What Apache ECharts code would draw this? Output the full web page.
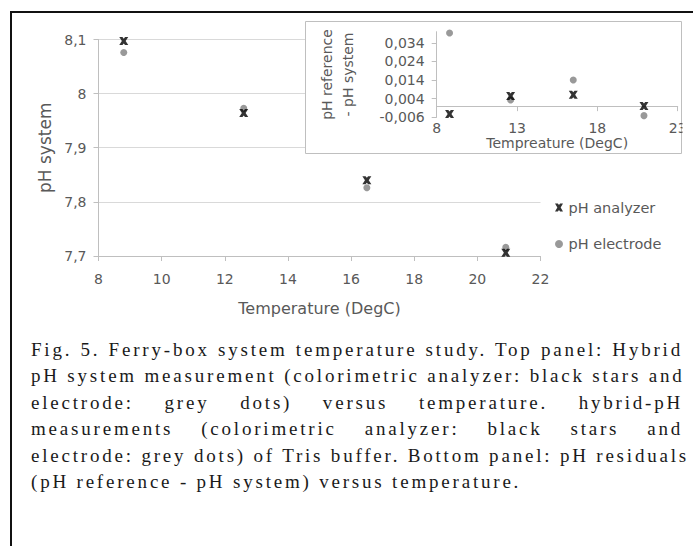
<!DOCTYPE html>
<html>
<head>
<meta charset="utf-8">
<script src="https://cdn.jsdelivr.net/npm/echarts@6/dist/echarts.min.js"></script>
<style>
  html, body { margin: 0; padding: 0; background: #fff; }
  #chart { position: absolute; left: 0; top: 0; width: 693px; height: 546px; }
  .frame { position: absolute; left: 10px; top: 11px; width: 700px; height: 560px;
           border-left: 2px solid #111; border-top: 2px solid #111; }
  .caption { position: absolute; left: 31px; top: 337px; width: 652px;
             font-family: 'Liberation Serif', serif; font-size: 19px; line-height: 26.4px;
             letter-spacing: 2.8px; color: #1a1a1a; }
  .caption div { text-align: justify; text-align-last: justify; white-space: nowrap; }
  .caption div.last { text-align: left; text-align-last: left; }
</style>
</head>
<body>
<div id="chart"></div>
<div class="frame"></div>
<div class="caption">
  <div>Fig. 5. Ferry-box system temperature study. Top panel: Hybrid</div>
  <div>pH system measurement (colorimetric analyzer: black stars and</div>
  <div>electrode: grey dots) versus temperature. hybrid-pH</div>
  <div>measurements (colorimetric analyzer: black stars and</div>
  <div>electrode: grey dots) of Tris buffer. Bottom panel: pH residuals</div>
  <div class="last">(pH reference - pH system) versus temperature.</div>
</div>
<script>
// temperatures (DegC)
const temps = [8.8, 12.6, 16.5, 20.9];
// main panel: pH system
const phAnalyzer = [8.097, 7.964, 7.840, 7.706];
const phElectrode = [8.076, 7.973, 7.826, 7.716];
// inset: pH reference - pH system
const resAnalyzer = [-0.0042, 0.0054, 0.0061, 0.0001];
const resElectrode = [0.0393, 0.0033, 0.0140, -0.0051];
// inset tick values
const insetYTicks = [-0.006, 0.004, 0.014, 0.024, 0.034];
const insetXTicks = [8, 13, 18, 23];

const FONT = 'DejaVu Sans';
const LABEL = '#595959';
const AXIS = '#bfbfbf';
const GRID = '#d9d9d9';
const STAR = 'path://M0,0 L3.6,0 L5,1.9 L6.4,0 L10,0 L7.1,5 L10,10 L6.4,10 L5,8.1 L3.6,10 L0,10 L2.9,5 Z';

const pairs = (xs, ys) => xs.map((x, i) => [x, ys[i]]);
const comma = (v, d) => String(Number(v.toFixed(d))).replace('.', ',');

const chart = echarts.init(document.getElementById('chart'), null, { renderer: 'svg' });
chart.setOption({
  animation: false,
  textStyle: { fontFamily: FONT },
  grid: [
    { left: 98.5, right: 152.5, top: 39.5, bottom: 290, outerBoundsMode: 'none' },
    { left: 436.7, right: 15.3, top: 31.7, bottom: 428.7, outerBoundsMode: 'none', z: 3 },
  ],
  graphic: [
    { type: 'rect', z: 1, shape: { x: 305.5, y: 21.5, width: 376, height: 132 },
      style: { fill: '#fff', stroke: AXIS, lineWidth: 1 } },
    { type: 'rect', z: 20, shape: { x: 682.5, y: 100, width: 20, height: 50 },
      style: { fill: '#fff' } },
  ],
  legend: {
    orient: 'vertical', left: 550, top: 195, itemGap: 21.5,
    itemWidth: 9, itemHeight: 8, itemStyle: { borderWidth: 0 },
    data: ['pH analyzer', 'pH electrode'],
    textStyle: { color: LABEL, fontSize: 14.5, fontFamily: FONT },
  },
  xAxis: [
    {
      gridIndex: 0, type: 'value', min: 8, max: 22, interval: 2,
      name: 'Temperature (DegC)', nameLocation: 'middle', nameGap: 44,
      nameTextStyle: { color: LABEL, fontSize: 16 },
      axisLine: { lineStyle: { color: AXIS } },
      axisTick: { show: true, length: 5, lineStyle: { color: AXIS } },
      axisLabel: { color: LABEL, fontSize: 14, margin: 16 },
      splitLine: { show: false },
    },
    {
      // inset: labels and title along the bottom
      gridIndex: 1, type: 'value', position: 'bottom', min: 8, max: 23, interval: 5, z: 3,
      name: 'Tempreature (DegC)', nameLocation: 'middle', nameGap: 9,
      nameTextStyle: { color: LABEL, fontSize: 14 },
      axisLine: { show: false, onZero: false },
      axisTick: { show: false },
      axisLabel: { color: LABEL, fontSize: 14, margin: 4, customValues: insetXTicks },
      splitLine: { show: false },
    },
    {
      // inset: axis line with ticks crossing at zero
      gridIndex: 1, type: 'value', position: 'bottom', min: 8, max: 23, interval: 5, z: 3,
      axisLine: { show: true, onZero: true, onZeroAxisIndex: 1, lineStyle: { color: AXIS } },
      axisTick: { show: true, length: 5, lineStyle: { color: AXIS }, customValues: insetXTicks },
      axisLabel: { show: false },
      splitLine: { show: false },
    },
  ],
  yAxis: [
    {
      gridIndex: 0, type: 'value', min: 7.7, max: 8.1, interval: 0.1,
      name: 'pH system', nameLocation: 'middle', nameGap: 45,
      nameTextStyle: { color: LABEL, fontSize: 17 },
      axisLine: { show: true, lineStyle: { color: AXIS } },
      axisTick: { show: true, length: 5, lineStyle: { color: AXIS } },
      axisLabel: { color: LABEL, fontSize: 14, margin: 12, formatter: (v) => comma(v, 2) },
      splitLine: { show: true, lineStyle: { color: GRID } },
    },
    {
      gridIndex: 1, type: 'value', min: -0.006, max: 0.04, z: 3,
      name: 'pH reference\n- pH system', nameLocation: 'middle', nameGap: 78,
      nameTextStyle: { color: LABEL, fontSize: 14, lineHeight: 21 },
      axisLine: { show: true, onZero: false, lineStyle: { color: AXIS } },
      axisTick: { show: true, length: 5, lineStyle: { color: AXIS }, customValues: insetYTicks },
      axisLabel: { color: LABEL, fontSize: 14, margin: 12, customValues: insetYTicks,
                   formatter: (v) => v.toFixed(3).replace('.', ',') },
      splitLine: { show: false },
    },
  ],
  series: [
    { name: 'pH electrode', type: 'scatter', xAxisIndex: 0, yAxisIndex: 0,
      symbol: 'circle', symbolSize: 7, itemStyle: { color: '#7f7f7f' },
      data: pairs(temps, phElectrode) },
    { name: 'pH analyzer', type: 'scatter', xAxisIndex: 0, yAxisIndex: 0,
      symbol: STAR, symbolSize: [9, 8], itemStyle: { color: '#000' },
      data: pairs(temps, phAnalyzer) },
    { name: 'residual electrode', type: 'scatter', xAxisIndex: 1, yAxisIndex: 1, z: 4,
      symbol: 'circle', symbolSize: 7, itemStyle: { color: '#7f7f7f' },
      data: pairs(temps, resElectrode) },
    { name: 'residual analyzer', type: 'scatter', xAxisIndex: 1, yAxisIndex: 1, z: 4,
      symbol: STAR, symbolSize: [9, 8], itemStyle: { color: '#000' },
      data: pairs(temps, resAnalyzer) },
  ],
});
</script>
</body>
</html>
